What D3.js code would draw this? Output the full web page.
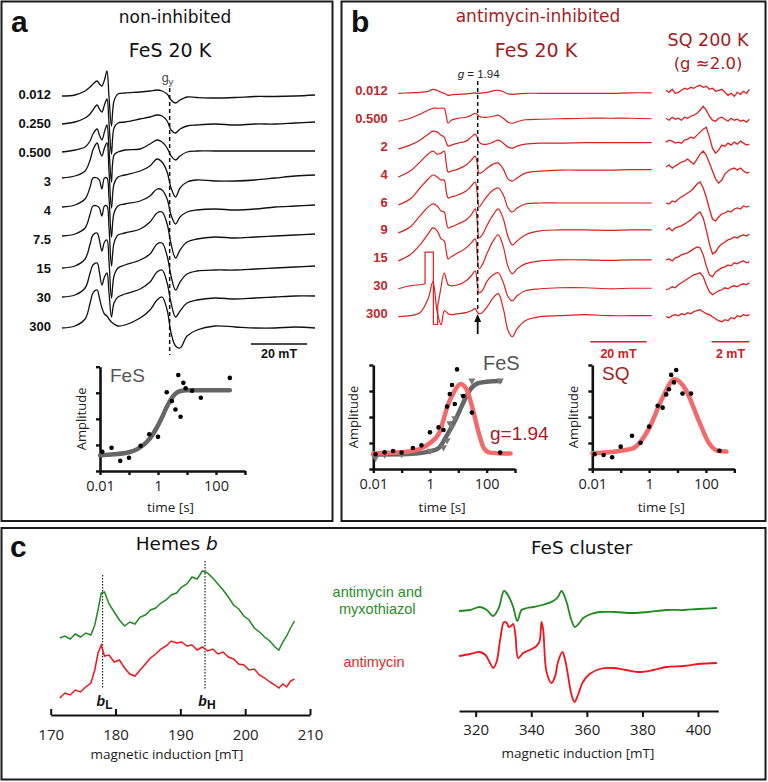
<!DOCTYPE html>
<html><head><meta charset="utf-8">
<script src="https://cdn.jsdelivr.net/npm/d3@7"></script>
<style>body{margin:0;background:#fff}svg{display:block}</style>
</head><body>
<script>
// ---------------- DATA ----------------
// Panel a: FeS 20 K spectra (non-inhibited); amplitude in arbitrary units (up = positive)
const rowLabelsA = ["0.012","0.250","0.500","3","4","7.5","15","30","300"];
const fieldA = [315.0,319.6,323.2,325.0,326.0,327.5,328.3,329.2,330.1,331.0,331.7,332.6,333.5,334.9,337.4,342.8,346.3,348.8,350.6,352.4,353.8,355.4,357.0,359.5,363.0,369.4,376.6,383.7,390.8,397.9,405.0];
const tracesA = [
 [0,1,5,9,12,15,12,10,16,25,0,-30,-5,2,3,4,5,6,5,2,-4,-7,-4,-1,-1.5,-2,-1.5,-0.5,-0.5,0,1],
 [0,2,6,10,14,19,15,12,19,25,2,-30,-4,1,2,5,7,9,8,3,-6,-9,-5,-2,-1,0,-1,0,0,1,2],
 [0,2,5,11,18,23,17,12,20,27,4,-30,-3,0,2,3,8,12,10,4,-4,-8,-4,0,1,1,1,1,1,1,1],
 [0,2,7,18,28,35,28,22,30,35,8,-30,-6,1,3,7,12,19,16,6,-10,-19,-10,-4,-2,-3,-3,-2,0,2,3],
 [0,2,8,20,29,29,27,18,29,29,10,-30,-6,1,3,6,11,18,17,8,-8,-17,-10,-5,-3,-2,-3,-2,0,1,2],
 [0,2,8,22,30,30,28,20,30,30,10,-30,-7,1,3,7,14,23,24,12,-8,-22,-14,-6,-3,-1,-2,-1,0,1,2],
 [0,2,9,24,33,35,28,17,26,28,8,-30,-8,0,3,8,14,24,25,12,-8,-22,-14,-6,-3,-2,-2,-1,0,1,2],
 [0,2,9,24,32,34,25,12,20,24,5,-20,-6,0,3,8,15,25,27,14,-6,-20,-14,-6,-3,-1,-2,-1,0,1,1],
 [0,2,9,25,35,38,30,20,14,12,9,6,4,2,3,10,18,28,31,18,-5,-18,-20,-8,-2,2,1,0,0,1,0]
];
const offsetA = [0,1,2,5,5,5,2,2,0];
const gyField = 353.3;

// Panel b: FeS 20 K spectra (antimycin-inhibited)
const rowLabelsB = ["0.012","0.500","2","4","6","9","15","30","300"];
const fieldB = [315.0,319.2,322.7,325.6,327.3,328.8,330.2,331.3,332.0,332.7,333.8,336.2,339.1,340.9,342.3,343.0,343.7,344.8,346.6,348.7,350.5,352.3,354.0,355.5,357.2,360.1,365.4,372.5,381.4,390.3,397.4,405.0];
const tracesB = [
 [0,0.5,1,2,4,3,1,0,-1,-2,-1.5,-1,-0.5,0,0.5,0,0,0.5,1,2.5,3,1.5,-0.5,-1,-0.5,0,0,0,0,0,0.5,0.5],
 [0,3,7,11,13,13,13,13,6,-2,1,3,4,6,8,7,5,4,4,5,6,3,-1,-2,-0.5,1.5,2,2.5,3,3,3,2.5],
 [0,4,9,15,18,17,14,12,7,3,4,6,8,12,15,12,7,5,5,7,9,6,2,1,3,5,6,6,6.5,6.5,6.5,6.5],
 [0,6,15,23,26,23,24,26,14,5,6,8,12,17,21,14,4,5,9,13,14,8,-2,-4,-1,4,6,7,7,7,7.5,7.5],
 [0,6,17,26,30,28,25,25,14,7,8,10,14,19,23,12,-2,2,9,15,17,10,-3,-7,-3,1,2,2,2,2,2,2],
 [0,6,17,26,29,27,22,21,12,5,6,9,13,18,24,12,-5,-2,8,18,24,14,-4,-12,-8,-2,2,3,3,2.5,3,3],
 [0,6,16,27,33,30,22,20,10,2,4,8,13,18,22,8,-8,-4,8,20,26,14,-6,-13,-8,-3,0,1,1,0.5,1,1],
 [0,3,4,null,null,null,2,16,10,4,3,4,8,13,18,6,-4,-2,8,14,16,6,-8,-12,-7,-2,0,1,1,0,0.5,0.5],
 [0,1,4,18,35,5,-8,6,5,3,2,3,4,6,8,5,3,4,10,19,23,8,-14,-20,-12,-4,0,1,2,1,1,1]
];
// clipped (off-scale) segment of the 30 s trace: [field, amplitude]
const clippedB30 = [[322.7,4],[324.5,5],[324.5,36.6],[327.45,36.6],[327.45,-35.7],[329.0,-35.7],[329.0,-17],[330.2,2]];
const g194Field = 343.2;

// Panel b: SQ 200 K spectra (field offset in mT)
const sqField = [0,0.16,0.33,0.49,0.66,0.82,0.99,1.15,1.32,1.48,1.65,1.81,1.98,2.14,2.31,2.47,2.64,2.80,2.97,3.13,3.30,3.46,3.63,3.79,3.96,4.12,4.29,4.43];
const tracesSQ = [
 [0,-2,1,-3,-2,0,2,1,3,2,4,5,3,4,1,2,-1,0,1,-2,-5,-3,-6,-2,-4,-1,-3,1],
 [0,-2,1,-1,0,-2,1,0,2,3,5,8,12,8,2,-2,-3,0,1,-1,-3,0,-2,-1,-3,-2,-4,-1],
 [0,2,1,-1,0,-1,2,3,5,4,7,10,13,15,5,-6,-11,-8,-3,-4,-1,-3,0,-2,1,-1,-3,-2],
 [0,2,-1,1,3,5,6,8,5,3,8,13,16,12,4,-4,-12,-16,-13,-7,-4,-2,-1,-3,-1,-4,-6,-5],
 [0,-1,2,1,4,6,8,10,12,15,19,21,15,6,-6,-16,-18,-14,-11,-10,-8,-9,-6,-5,-6,-3,-4,-3],
 [0,2,-1,2,3,4,6,8,10,13,16,18,12,0,-14,-24,-22,-17,-14,-12,-10,-9,-7,-8,-6,-5,-6,-4],
 [0,1,-1,2,3,5,6,7,9,11,13,12,5,-6,-15,-17,-12,-10,-8,-7,-5,-6,-3,-4,-2,-1,-3,-2],
 [0,1,3,2,5,7,9,11,13,15,16,17,13,5,-2,-5,-3,-1,0,2,1,3,4,3,5,6,5,7],
 [0,-1,1,2,1,3,2,4,3,5,6,7,5,3,2,0,-2,-4,-5,-3,-4,-1,-2,1,0,2,1,2]
];
const offsetSQ = [3,3,7,10,2,3,1,-1,0];

// Kinetics insets
const timePoints = [0.012,0.025,0.05,0.1,0.25,0.5,1,2,3,4,5,6,7.5,9,15,30,300];
const ampFeSa = [0.74,0.89,0.39,0.51,0.97,1.41,1.31,3.02,2.68,2.36,3.68,2.08,3.38,3.17,3.08,2.81,3.57];
const fitFeSaT = [0.01,0.03,0.1,0.2,0.4,0.7,1,1.5,2,3,4,6,10,30,300];
const fitFeSaA = [0.6,0.64,0.72,0.85,1.1,1.45,1.75,2.15,2.45,2.8,2.97,3.07,3.1,3.1,3.1];
const ampG194 = [0.57,0.64,0.69,0.63,0.81,0.91,1.41,1.6,1.5,2.4,2.88,3.23,2.5,3.83,2.81,2.17,0.63];
const fitG194T = [0.01,0.1,0.3,0.5,1,2.2,4.3,7.7,12,20,33,55,80,130,300,700];
const fitG194A = [0.6,0.64,0.72,0.8,1.0,1.43,2.46,3.04,3.27,3.04,2.27,1.31,0.8,0.63,0.6,0.6];
const triFeSbT = [0.012,0.025,0.1,1,3,4,5,6,7.5,15,30,300];
const triFeSbA = [0.43,0.55,0.57,0.7,0.83,1.1,1.76,1.63,1.95,2.8,3.4,3.4];
const fitFeSbT = [0.01,0.1,0.3,1,2,4,8,15,26,50,100,300];
const fitFeSbA = [0.56,0.57,0.6,0.68,0.8,1.3,1.9,2.55,3.05,3.3,3.36,3.38];
const ampSQ = [0.57,0.54,0.45,0.86,1.28,1.01,1.63,2.43,2.36,2.87,3.07,3.62,3.33,3.81,2.9,2.9,0.70];
const fitSQT = [0.01,0.1,0.27,0.5,1.07,3.1,7.8,19.8,52,130,260,530];
const fitSQA = [0.6,0.7,0.79,1.05,1.63,2.78,3.45,3.04,1.95,0.99,0.70,0.67];
const timeTicks = [0.01,0.1,1,10,100,1000];
const timeTickLabels = ["0.01","","1","","100",""];
const ampTicks = [0,1,2,3,4];

// Panel c: hemes b
const hemeField = [171.4,172.2,173.0,173.8,174.6,175.4,176.2,176.8,177.3,177.8,178.3,179.0,179.8,180.6,181.4,182.2,183.0,183.8,184.6,185.4,186.2,187.0,187.8,188.6,189.4,190.2,191.0,191.8,192.6,193.4,194.2,195.0,195.8,196.6,197.4,198.2,199.0,199.8,200.6,201.4,202.2,203.0,203.8,204.6,205.2,205.8,206.4,207.0,207.6];
const hemeAM = [12,14,11,16,13,17,15,25,40,57,58,46,38,30,24,28,26,33,35,40,42,47,50,55,57,63,66,73,71,79,77,72,66,60,53,45,41,34,30,22,18,13,9,3,0,8,14,22,29];
const hemeA = [-48,-43,-45,-40,-42,-37,-33,-20,-3,5,-6,-5,-12,-10,-18,-24,-26,-20,-14,-8,-4,1,4,9,7,8,4,5,0,3,-1,1,-4,-2,-7,-9,-14,-15,-20,-19,-25,-28,-32,-35,-38,-34,-37,-31,-29];
const hemeTicks = [170,180,190,200,210];
const bLField = 178.0, bHField = 193.8;

// Panel c: FeS cluster
const fesAM = [[314,29],[318,30],[321.5,33],[324,30],[326.3,24],[328.3,32],[330.2,49],[331.8,44],[333.5,33],[335,19],[336.5,30],[338.5,32],[340.7,33],[344,35],[347.9,39],[349.6,43],[350.9,49],[352.7,38],[354.2,22],[355.7,13],[357,16],[358.7,22],[361.5,26],[364.7,28],[370,28],[376.6,27],[382,28],[388.6,30],[395,30],[400,31],[406.8,32]];
const fesA = [[314,-16],[318,-14],[321.5,-12],[323.5,-15],[325,-22],[326.3,-28],[327.5,-22],[328.8,0],[330.2,18],[331.2,17],[331.9,13],[332.7,14],[333.5,16],[334.3,5],[335.3,-18],[337.1,-13],[339.5,-10],[341.9,-6],[343.0,-1],[343.7,18],[344.3,10],[345.5,-32],[347.3,-43],[348.6,-36],[349.6,-22],[351.2,-12],[352.2,-20],[353.2,-35],[354.5,-55],[355.6,-62],[356.8,-55],[358.6,-42],[361,-34],[364.7,-29],[369.4,-28],[374,-30],[379.1,-32],[384,-30],[388.7,-27],[395,-26],[400,-24],[406.8,-23]];
const fesTicks = [320,340,360,380,400];

// ---------------- DRAWING ----------------
const FT = "'Liberation Sans', Arial, sans-serif";
const FD = "'DejaVu Sans', Verdana, sans-serif";
const FO = "'Open Sans', 'DejaVu Sans', sans-serif";
const DR = "#a51c1f", RED = "#dc1f1f", GRN = "#1f8a1f", CRED = "#f0141c";
const svg = d3.select("body").append("svg").attr("width",768).attr("height",782);

function txt(x,y,s,o={}){
  const t = svg.append("text").attr("x",x).attr("y",y).text(s)
    .attr("font-family",o.ff||FT).attr("font-size",o.fs||14).attr("fill",o.fill||"#111")
    .attr("text-anchor",o.anchor||"start");
  if(o.fw) t.attr("font-weight",o.fw);
  if(o.fst) t.attr("font-style",o.fst);
  return t;
}
function box(x,y,w,h){svg.append("rect").attr("x",x).attr("y",y).attr("width",w).attr("height",h)
  .attr("fill","none").attr("stroke","#1b1b1b").attr("stroke-width",2);}
box(1.5,1.5,331,519.5); box(341.5,1.5,424,519.5); box(1.5,528,764,251.5);

const up = d3.scaleLinear().domain([0,100]).range([0,-100]);

// ---- Panel a ----
txt(11,32,"a",{fs:30,fw:"bold"});
txt(175,23,"non-inhibited",{ff:FD,fs:17,anchor:"middle"});
txt(170,57,"FeS 20 K",{ff:FD,fs:19,anchor:"middle"});
const xA = d3.scaleLinear().domain([315,405]).range([62,315]);
const rowA = d3.scalePoint().domain(rowLabelsA).range([96,328]);
const lineA = d3.line().x(d=>xA(d[0])).y(d=>up(d[1])).curve(d3.curveCatmullRom.alpha(0.5));
rowLabelsA.forEach((lab,r)=>{
  const g = svg.append("g").attr("transform",`translate(0,${rowA(lab)})`);
  g.append("path").datum(fieldA.map((f,i)=>[f,tracesA[r][i]+offsetA[r]]))
    .attr("d",lineA).attr("fill","none").attr("stroke","#111").attr("stroke-width",1.3);
  txt(51,rowA(lab)-2,lab,{fs:13,fw:"bold",anchor:"end"}).attr("dominant-baseline","central");
});
svg.append("line").attr("x1",xA(gyField)).attr("x2",xA(gyField)).attr("y1",88).attr("y2",355)
  .attr("stroke","#111").attr("stroke-width",1.5).attr("stroke-dasharray","4,3");
const gy = txt(xA(gyField)-8,82,"g",{fs:12.5,fill:"#444"});
gy.append("tspan").attr("font-size",9.5).attr("dy",3).text("y");
svg.append("line").attr("x1",xA(382.2)).attr("x2",xA(402.2)).attr("y1",344).attr("y2",344).attr("stroke","#111").attr("stroke-width",1.5);
txt((xA(382.2)+xA(402.2))/2,358,"20 mT",{fs:12.5,fw:"bold",anchor:"middle"});

// ---- insets ----
function inset(o){
  const x = d3.scaleLog().domain([0.01,1000]).range([o.x0,o.x1]);
  const y = d3.scaleLinear().domain([0,4]).range([o.yb,o.yt]);
  const g = svg.append("g");
  const ya = g.append("g").attr("transform",`translate(${o.x0},0)`)
    .call(d3.axisLeft(y).tickValues(ampTicks).tickSize(4).tickSizeOuter(0).tickFormat(""));
  const xa = g.append("g").attr("transform",`translate(0,${o.yb})`)
    .call(d3.axisBottom(x).tickValues(timeTicks).tickSize(4).tickSizeOuter(0).tickPadding(5.5)
      .tickFormat((d,i)=>timeTickLabels[i]));
  [ya,xa].forEach(a=>{
    a.select(".domain").attr("stroke","#111").attr("stroke-width",2.6);
    a.selectAll(".tick line").attr("stroke","#111").attr("stroke-width",2.4);
    a.selectAll("text").attr("font-family",FO).attr("font-size",14.5).attr("fill","#222");
  });
  txt((o.x0+o.x1)/2-2,512,"time [s]",{ff:FO,fs:13.5,anchor:"middle",fill:"#222"});
  svg.append("text").attr("transform",`translate(${o.ax},${(o.yb+o.yt)/2}) rotate(-90)`)
    .attr("text-anchor","middle").attr("font-family",FO).attr("font-size",13).attr("fill","#222").text("Amplitude");
  return {x,y,g};
}
function curve(ins,T,A,color){
  ins.g.append("path").datum(T.map((t,i)=>[t,A[i]]))
    .attr("d",d3.line().x(d=>ins.x(d[0])).y(d=>ins.y(d[1])).curve(d3.curveMonotoneX))
    .attr("fill","none").attr("stroke",color).attr("stroke-width",4.5).attr("stroke-linecap","round");
}
function dots(ins,T,A){
  ins.g.selectAll(null).data(T.map((t,i)=>[t,A[i]])).enter().append("circle")
    .attr("cx",d=>ins.x(d[0])).attr("cy",d=>ins.y(d[1])).attr("r",2.3).attr("fill","#000");
}
const insA = inset({x0:100,x1:245,yb:471,yt:366.7,ax:86});
curve(insA,fitFeSaT,fitFeSaA,"#666");
dots(insA,timePoints,ampFeSa);
txt(110,382,"FeS",{fs:19,fill:"#555"});

// ---- Panel b ----
txt(351,32,"b",{fs:30,fw:"bold"});
txt(538,22,"antimycin-inhibited",{ff:FD,fs:17,anchor:"middle",fill:DR});
txt(536,57,"FeS 20 K",{ff:FD,fs:19,anchor:"middle",fill:DR});
txt(708,46,"SQ 200 K",{ff:FD,fs:17.5,anchor:"middle",fill:DR});
txt(708,69,"(g \u22482.0)",{ff:FD,fs:16.5,anchor:"middle",fill:DR});
const xB = d3.scaleLinear().domain([315,405]).range([398.3,651.7]);
const rowB = d3.scalePoint().domain(rowLabelsB).range([93.3,316.7]);
const lineB = d3.line().defined(d=>d[1]!=null).x(d=>xB(d[0])).y(d=>up(d[1])).curve(d3.curveCatmullRom.alpha(0.5));
const xSQ = d3.scaleLinear().domain([0,4.43]).range([666,749.3]);
const lineSQ = d3.line().x(d=>xSQ(d[0])).y(d=>up(d[1]));
rowLabelsB.forEach((lab,r)=>{
  const g = svg.append("g").attr("transform",`translate(0,${rowB(lab)})`);
  g.append("path").datum(fieldB.map((f,i)=>[f,tracesB[r][i]]))
    .attr("d",lineB).attr("fill","none").attr("stroke",RED).attr("stroke-width",1.2);
  if(lab==="30"){
    g.append("path").datum(clippedB30).attr("d",d3.line().x(d=>xB(d[0])).y(d=>up(d[1])))
      .attr("fill","none").attr("stroke",RED).attr("stroke-width",1.2);
  }
  g.append("path").datum(sqField.map((f,i)=>[f,tracesSQ[r][i]+offsetSQ[r]]))
    .attr("d",lineSQ).attr("fill","none").attr("stroke",RED).attr("stroke-width",1.3);
  txt(387.7,rowB(lab)-3,lab,{fs:13,fw:"bold",anchor:"end",fill:"#c0262b"}).attr("dominant-baseline","central");
});
svg.append("line").attr("x1",xB(g194Field)).attr("x2",xB(g194Field)).attr("y1",81).attr("y2",312)
  .attr("stroke","#111").attr("stroke-width",1.5).attr("stroke-dasharray","4,3");
const gl = txt(xB(g194Field)-20,78,"g",{fs:11.5,fst:"italic",fill:"#222"});
gl.append("tspan").attr("font-style","normal").text(" = 1.94");
svg.append("line").attr("x1",xB(g194Field)).attr("x2",xB(g194Field)).attr("y1",334).attr("y2",320).attr("stroke","#111").attr("stroke-width",1.8);
svg.append("path").attr("d",`M${xB(g194Field)},314 L${xB(g194Field)-3.5},322 L${xB(g194Field)+3.5},322 Z`).attr("fill","#111");
svg.append("line").attr("x1",xB(383.2)).attr("x2",xB(403.2)).attr("y1",341.7).attr("y2",341.7).attr("stroke",RED).attr("stroke-width",1.5);
txt((xB(383.2)+xB(403.2))/2,358,"20 mT",{fs:12.5,fw:"bold",anchor:"middle",fill:"#cc2020"});
svg.append("line").attr("x1",xSQ(2.43)).attr("x2",xSQ(4.43)).attr("y1",341.7).attr("y2",341.7).attr("stroke",RED).attr("stroke-width",1.5);
txt((xSQ(2.43)+xSQ(4.43))/2,358,"2 mT",{fs:12.5,fw:"bold",anchor:"middle",fill:"#cc2020"});

const insB1 = inset({x0:373.3,x1:515,yb:469,yt:365,ax:357.5});
curve(insB1,fitFeSbT,fitFeSbA,"#666");
insB1.g.selectAll(null).data(triFeSbT.map((t,i)=>[t,triFeSbA[i]])).enter().append("path")
  .attr("d",d3.symbol().type(d3.symbolTriangle).size(22))
  .attr("transform",d=>`translate(${insB1.x(d[0])},${insB1.y(d[1])}) rotate(180)`).attr("fill","#777");
curve(insB1,fitG194T,fitG194A,"#f26a6a");
dots(insB1,timePoints,ampG194);
txt(483,369.5,"FeS",{fs:20,fill:"#555"});
txt(490,440,"g=1.94",{fs:19,fill:DR});

const insB2 = inset({x0:592.3,x1:734.3,yb:469,yt:365,ax:577.5});
curve(insB2,fitSQT,fitSQA,"#f26a6a");
dots(insB2,timePoints,ampSQ);
txt(602,379.5,"SQ",{fs:19,fill:DR});

// ---- Panel c ----
txt(10,557,"c",{fs:30,fw:"bold"});
const ht = txt(176.7,550,"Hemes ",{ff:FD,fs:18.5,anchor:"middle"});
ht.append("tspan").attr("font-style","italic").text("b");
txt(581.7,554,"FeS cluster",{ff:FD,fs:18.5,anchor:"middle"});

const xH = d3.scaleLinear().domain([170,210]).range([50.7,310]);
const yH = d3.scaleLinear().domain([0,100]).range([650,550]);
const hAx = svg.append("g").attr("transform","translate(0,715)")
  .call(d3.axisBottom(xH).tickValues(hemeTicks).tickSize(-6).tickSizeOuter(0).tickPadding(14));
const xF = d3.scaleLinear().domain([314,407.3]).range([459,718.3]);
const yF = d3.scaleLinear().domain([0,100]).range([640,540]);
const fAx = svg.append("g").attr("transform","translate(0,711)")
  .call(d3.axisBottom(xF).tickValues(fesTicks).tickSize(6).tickSizeOuter(0).tickPadding(7.5));
[hAx,fAx].forEach(a=>{
  a.select(".domain").attr("stroke","#111").attr("stroke-width",2.2);
  a.selectAll(".tick line").attr("stroke","#111").attr("stroke-width",2);
  a.selectAll("text").attr("font-family",FO).attr("font-size",15).attr("fill","#222");
});
txt(167,759,"magnetic induction [mT]",{ff:FO,fs:13.5,anchor:"middle",fill:"#222"});
txt(578,758,"magnetic induction [mT]",{ff:FO,fs:13.5,anchor:"middle",fill:"#222"});

[[bLField,575,"L"],[bHField,561,"H"]].forEach(([f,y1,s])=>{
  svg.append("line").attr("x1",xH(f)).attr("x2",xH(f)).attr("y1",y1).attr("y2",689)
    .attr("stroke","#222").attr("stroke-width",1.2).attr("stroke-dasharray","1.5,1.5");
  const t = txt(xH(f)+2,706,"b",{fs:14,fw:"bold",fst:"italic",anchor:"middle"});
  t.append("tspan").attr("font-style","normal").attr("font-size",12).attr("dy",3).text(s);
});
const lineH = d3.line().x(d=>xH(d[0])).y(d=>yH(d[1]));
svg.append("path").datum(hemeField.map((f,i)=>[f,hemeAM[i]])).attr("d",lineH)
  .attr("fill","none").attr("stroke",GRN).attr("stroke-width",1.5);
svg.append("path").datum(hemeField.map((f,i)=>[f,hemeA[i]])).attr("d",lineH)
  .attr("fill","none").attr("stroke",CRED).attr("stroke-width",1.5);

const lineF = d3.line().x(d=>xF(d[0])).y(d=>yF(d[1])).curve(d3.curveCatmullRom.alpha(0.5));
svg.append("path").datum(fesAM).attr("d",lineF).attr("fill","none").attr("stroke",GRN).attr("stroke-width",1.8);
svg.append("path").datum(fesA).attr("d",lineF).attr("fill","none").attr("stroke",CRED).attr("stroke-width",1.8);

txt(377.3,596.7,"antimycin and",{fs:14.5,anchor:"middle",fill:"#2a8c2a"});
txt(377.3,614.3,"myxothiazol",{fs:14.5,anchor:"middle",fill:"#2a8c2a"});
txt(374,666.7,"antimycin",{fs:14.5,anchor:"middle",fill:"#e8262b"});
</script>
</body></html>
